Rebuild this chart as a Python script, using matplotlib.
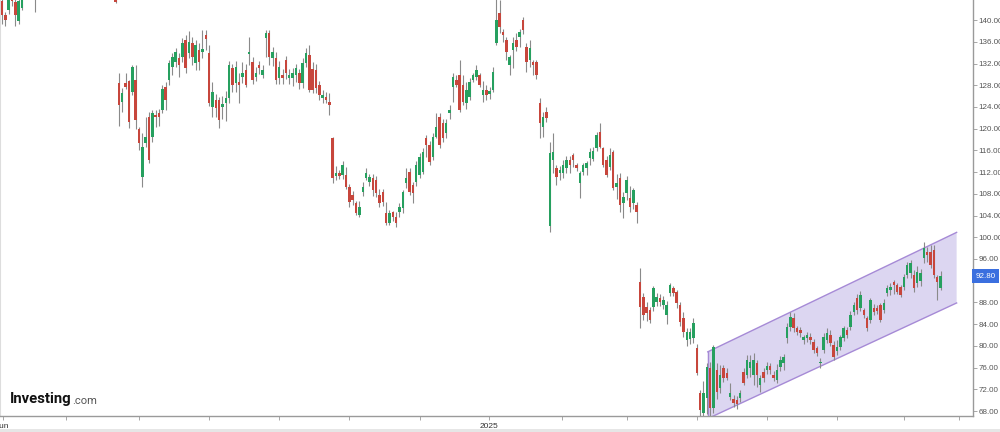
import matplotlib
matplotlib.use("Agg")
import matplotlib.pyplot as plt
import matplotlib.transforms as mtransforms
from matplotlib.patches import Rectangle
import numpy as np

# ---------------- data (daily OHLC, Jun 2024 -> Jul 2025) ----------------
opens = [143.6,140.9,141.8,144.6,143.4,139.8,142.2,145.0,146.5,147.8,
         146.5,145.2,147.0,148.6,150.1,149.2,151.0,152.4,151.5,150.0,
         151.8,153.0,152.2,150.6,149.0,150.4,151.6,150.8,149.3,148.0,
         149.2,148.4,147.2,148.0,147.0,
         128.4,124.9,128.4,128.8,126.7,129.0,119.9,111.1,117.4,122.1,
         118.5,122.4,122.9,123.4,127.7,129.0,131.4,132.3,133.0,133.2,
         136.3,133.9,135.8,132.1,134.5,134.2,137.3,133.9,124.0,125.3,
         125.3,124.0,124.7,125.6,131.2,128.4,128.6,129.5,130.8,133.7,
         132.3,129.5,131.7,129.9,136.7,137.6,133.0,133.0,129.3,129.9,
         132.7,129.3,129.4,129.9,130.2,128.4,132.1,133.6,131.0,130.8,
         128.0,125.6,125.9,124.9,118.3,111.2,111.8,111.5,111.5,109.3,
         107.8,106.3,104.1,108.3,110.9,110.2,110.9,110.5,107.8,108.3,
         104.5,102.6,104.6,103.7,104.6,105.4,110.0,112.0,109.6,110.2,
         111.5,112.0,118.3,117.0,114.8,118.5,122.1,121.0,119.2,122.9,
         127.7,129.0,129.9,128.0,124.7,125.8,129.0,129.5,129.9,126.2,
         127.1,126.3,127.1,135.8,141.3,137.8,136.3,131.7,134.5,136.3,
         136.9,140.0,135.0,132.6,132.3,132.3,124.7,120.3,123.1,102.0,
         114.2,112.7,111.8,111.8,112.7,114.2,115.1,113.3,110.0,112.0,
         112.7,114.6,114.5,116.4,119.4,116.4,114.2,112.9,115.7,109.3,
         110.9,106.3,108.1,107.2,106.3,105.9,
         91.8,89.0,87.2,86.6,87.2,88.1,88.8,87.5,85.7,89.7,
         90.6,89.9,87.5,85.1,81.1,81.3,81.4,79.6,71.3,67.6,
         70.4,75.9,68.6,75.6,72.2,75.9,75.0,70.6,70.2,70.1,
         70.4,75.2,74.6,75.9,74.6,76.8,72.8,75.2,75.6,76.2,
         74.6,73.7,76.1,76.8,81.4,83.5,85.1,83.3,83.0,81.1,
         81.4,81.6,80.7,79.6,76.8,79.2,81.1,82.0,80.2,79.0,
         79.8,81.4,82.9,83.5,86.2,88.8,87.0,86.6,85.1,84.8,
         87.0,87.0,87.5,86.6,89.7,90.3,91.8,91.2,90.8,90.8,
         93.1,93.4,93.1,91.6,91.9,96.2,97.3,97.3,97.6,92.7,90.7]
highs = [144.5,141.5,145.0,145.2,144.3,144.2,145.8,147.2,148.5,148.9,
         147.5,147.8,149.2,150.8,151.0,151.6,153.1,153.4,152.0,152.5,
         153.8,154.0,152.8,151.2,151.0,152.2,152.3,151.4,149.9,149.8,
         150.0,149.0,148.6,148.7,147.6,
         130.2,127.5,130.2,129.0,131.7,131.7,120.3,119.2,122.1,123.1,
         123.4,123.4,123.6,128.0,128.6,132.7,133.9,134.8,134.0,136.7,
         137.2,137.9,136.8,136.3,135.7,138.2,138.2,135.5,128.6,126.3,
         125.8,126.0,127.0,132.5,132.0,132.4,130.2,132.3,132.0,136.8,
         133.2,131.3,132.4,131.8,138.2,138.2,135.0,134.2,132.4,130.9,
         133.4,131.0,131.2,132.0,131.0,133.0,134.8,135.4,132.2,132.0,
         128.8,127.1,126.8,126.6,118.5,113.2,112.3,114.0,112.9,109.8,
         108.5,106.7,106.7,110.2,112.7,111.6,111.6,111.2,108.9,108.9,
         106.5,105.0,104.8,104.6,106.3,108.7,112.7,112.7,110.2,114.0,
         115.5,116.5,118.8,117.8,119.2,122.9,122.9,121.8,121.8,124.3,
         130.2,129.9,132.7,129.9,128.6,129.3,130.2,131.8,130.2,128.7,
         128.0,127.7,131.3,143.8,143.7,138.4,136.9,133.6,136.9,137.6,
         138.4,140.5,135.8,136.3,132.7,132.7,125.6,123.0,124.0,117.5,
         119.2,113.3,113.2,114.2,115.0,115.0,115.5,113.6,112.2,113.6,
         114.1,116.4,116.7,119.4,121.0,116.7,115.0,116.4,116.1,111.6,
         111.8,108.3,111.2,109.4,109.1,106.5,
         94.3,89.7,88.0,87.2,91.0,89.7,89.6,89.1,88.3,91.5,
         91.1,90.2,88.1,86.2,83.2,83.2,85.2,80.4,71.9,73.5,
         76.8,77.0,80.2,76.8,76.5,76.5,76.0,73.2,70.9,70.7,
         71.9,76.0,78.3,78.3,78.7,77.4,74.6,76.0,77.0,76.8,
         75.3,76.6,78.1,78.5,84.2,86.2,86.0,83.7,83.4,82.0,
         82.6,82.3,81.3,80.0,77.8,82.3,83.3,82.9,80.9,81.0,
         82.0,83.7,83.5,86.4,88.1,89.5,90.1,87.0,85.5,88.8,
         87.7,87.6,87.9,88.6,91.3,91.5,92.1,91.6,91.3,93.3,
         95.5,95.8,94.0,94.7,94.2,99.1,98.2,98.5,98.5,93.1,93.8]
lows = [139.3,138.9,141.2,142.6,138.9,139.2,141.9,144.6,145.8,146.3,
        141.5,144.6,146.4,148.0,148.5,148.7,150.3,150.8,149.2,149.6,
        151.0,151.4,149.8,148.2,148.4,149.9,150.1,148.7,147.2,147.5,
        147.6,146.5,146.4,146.2,143.1,
        120.5,123.1,127.3,120.1,126.2,119.9,116.1,109.3,116.6,113.7,
        117.5,120.3,120.5,122.9,123.4,128.0,129.8,131.4,129.6,132.3,
        130.2,133.0,131.8,130.8,130.8,133.0,134.5,124.2,122.1,122.2,
        120.1,121.8,121.5,124.7,126.7,126.8,124.7,128.5,127.7,131.7,
        128.2,128.8,130.0,129.3,133.2,131.7,131.6,128.2,128.2,128.3,
        129.2,128.2,127.8,128.6,127.3,127.5,131.3,126.7,126.5,126.5,
        125.2,124.7,124.8,122.5,110.0,110.5,110.7,110.7,108.9,105.6,
        106.0,104.1,103.7,107.6,110.5,109.5,107.6,107.4,105.6,105.8,
        102.3,102.2,103.0,101.9,103.7,104.5,109.1,107.7,106.3,109.5,
        110.9,111.7,114.8,113.3,114.2,118.3,116.4,117.6,118.3,121.8,
        124.9,127.7,123.0,124.3,123.6,125.3,128.6,129.0,127.7,124.9,
        125.3,125.5,126.8,135.4,137.6,136.0,132.6,129.9,131.2,134.3,
        135.0,137.4,130.4,131.4,129.9,129.2,118.3,118.5,121.3,101.0,
        111.8,109.7,110.5,110.9,111.8,111.8,112.9,112.2,107.2,111.5,
        111.5,113.3,114.0,115.9,116.4,112.9,111.1,112.4,108.7,107.1,
        104.7,103.5,106.9,104.7,105.2,102.6,
        83.3,84.8,84.6,84.2,86.4,87.4,87.4,86.8,84.1,89.1,
        89.2,87.0,83.6,81.6,79.9,80.4,80.6,74.7,66.5,66.5,
        67.5,67.0,67.6,70.2,71.4,73.4,73.8,70.0,68.7,68.4,
        69.7,72.8,74.0,74.3,72.8,72.5,71.5,73.4,74.8,74.9,
        73.5,73.2,75.3,75.6,80.5,82.7,82.5,82.0,81.6,80.4,
        80.8,80.3,78.6,78.2,75.9,78.6,80.6,79.9,77.4,78.3,
        79.2,80.9,81.4,82.9,85.7,85.9,86.4,85.2,82.8,84.2,
        85.7,85.9,84.4,86.1,89.1,89.3,89.6,89.5,89.0,90.2,
        92.5,92.5,90.0,90.9,91.0,95.3,95.5,94.3,92.5,88.4,90.2]
closes = [141.0,140.0,144.5,143.6,141.0,143.6,145.0,146.5,147.8,147.0,
          145.2,147.0,148.6,150.1,149.2,151.0,152.4,151.5,150.0,151.8,
          153.0,152.2,150.6,149.0,150.4,151.6,150.8,149.3,148.0,149.2,
          148.4,147.2,148.0,147.0,143.4,
          124.4,126.6,127.7,121.2,131.4,121.6,117.4,116.6,118.5,114.2,
          122.9,122.2,122.1,127.3,125.3,132.1,133.2,134.1,131.7,135.8,
          131.2,136.0,133.2,135.4,132.3,134.6,136.6,124.7,126.7,123.8,
          121.6,124.6,125.6,131.7,128.0,131.4,128.0,130.2,128.0,134.1,
          129.0,130.2,131.2,130.8,137.6,133.2,134.1,129.0,131.4,129.3,
          130.2,129.9,130.2,131.2,128.4,132.1,133.9,127.1,127.1,127.5,
          126.2,126.2,125.3,124.4,110.9,111.8,111.2,113.3,109.3,106.5,
          106.9,104.5,105.6,109.3,111.8,111.1,108.7,108.1,106.3,106.5,
          102.6,104.5,103.7,102.6,105.6,108.3,110.9,108.3,108.1,113.3,
          114.8,115.7,117.0,113.9,118.5,120.3,117.0,118.3,121.0,123.4,
          129.5,128.1,123.4,124.9,127.1,128.6,129.9,130.8,128.1,127.1,
          126.2,126.9,130.4,140.0,138.7,137.2,134.1,133.2,135.8,135.0,
          137.8,138.2,132.3,134.9,131.7,129.9,121.0,122.1,122.0,115.5,
          115.7,111.1,112.4,113.3,114.2,113.3,114.2,112.7,111.8,113.3,
          113.7,115.7,115.9,118.8,116.6,113.3,111.5,115.1,109.1,110.0,
          105.9,107.4,110.5,105.6,108.7,104.6,
          87.2,85.7,86.1,84.8,90.6,89.0,88.1,88.4,87.5,91.2,
          89.7,87.9,84.4,82.5,82.5,82.5,84.2,75.0,68.2,71.3,
          76.1,68.6,79.8,71.5,74.6,74.1,74.1,71.3,69.5,69.3,
          71.3,73.2,77.4,77.0,77.4,74.6,74.1,74.1,76.3,75.6,
          74.1,75.6,77.4,77.9,83.5,85.3,83.3,82.5,82.3,81.6,
          82.0,81.0,79.2,78.7,77.1,81.6,82.4,80.5,77.9,79.8,
          81.6,83.3,82.0,85.7,87.5,86.6,89.4,85.7,83.3,88.4,
          86.3,86.4,84.8,87.9,90.6,90.8,91.2,89.9,89.4,92.7,
          94.9,95.3,90.7,93.6,93.5,98.0,96.7,94.9,93.1,91.8,92.8]

# month ticks (trading-day index) and their labels
month_ticks = [0.2, 19.2, 41.0, 62.0, 83.0, 104.0, 125.0, 145.8, 167.7, 187.0, 208.0, 229.0, 250.0, 270.0, 286.5]
month_labels = ["Jun", "", "", "", "", "", "", "2025", "", "", "", "", "", "", ""]

# price axis ticks (92.00 is hidden behind the last-price tag)
price_ticks = [68, 72, 76, 80, 84, 88, 96, 100, 104, 108, 112, 116, 120, 124, 128, 132, 136, 140]
last_price = 92.80

# rising channel drawn on the chart (index, price)
channel_x = [211.3, 285.8]
channel_upper = [78.9, 100.9]
channel_lower = [66.6, 87.9]

# ---------------- figure ----------------
GREEN = "#26a05f"
RED = "#c7463c"
WICK = "#8a8a8a"
TICKFONT = "Liberation Sans"

fig = plt.figure(figsize=(10, 4.32), dpi=100)
ax = fig.add_axes([0.0, 16 / 432, 0.973, 1 - 16 / 432])

n = len(closes)
x = np.arange(n)
o = np.array(opens); h = np.array(highs); l = np.array(lows); c = np.array(closes)

# channel
poly_x = [channel_x[0], channel_x[1], channel_x[1], channel_x[0]]
poly_y = [channel_upper[0], channel_upper[1], channel_lower[1], channel_lower[0]]
ax.fill(poly_x, poly_y, color="#dcd6f1", zorder=1, lw=0)
ax.plot(channel_x, channel_upper, color="#a68ad6", lw=1.0, zorder=1.5)
ax.plot(channel_x, channel_lower, color="#a68ad6", lw=1.0, zorder=1.5)
ax.plot([channel_x[0], channel_x[0]], [channel_lower[0], channel_upper[0]], color="#a68ad6", lw=1.0, zorder=1.5)

up = c >= o
colors = np.where(up, GREEN, RED)
ax.vlines(x, l, h, color=WICK, lw=0.8, zorder=2)
bottoms = np.minimum(o, c)
heights = np.maximum(np.abs(c - o), 0.3)
ax.bar(x, heights, bottom=bottoms, width=0.74, color=colors, lw=0, zorder=3)

ax.set_xlim(-0.6, 290.7)
ax.set_ylim(67.08, 143.7)

ax.yaxis.tick_right()
ax.set_yticks(price_ticks)
ax.set_yticklabels([f"{v:.2f}" for v in price_ticks], family=TICKFONT)
ax.tick_params(axis="y", direction="out", length=3, width=0.6, color="#999999",
               labelsize=5.8, labelcolor="#555555", pad=0.8)
ax.set_xticks(month_ticks)
ax.set_xticklabels(month_labels, family=TICKFONT)
ax.tick_params(axis="x", direction="out", length=3, width=0.6, color="#999999",
               labelsize=6.0, labelcolor="#333333", pad=2)

ax.spines["top"].set_visible(False)
ax.spines["left"].set_color("#dddddd")
ax.spines["left"].set_linewidth(0.8)
ax.spines["right"].set_color("#9a9a9a")
ax.spines["right"].set_linewidth(1.0)
ax.spines["bottom"].set_color("#9a9a9a")
ax.spines["bottom"].set_linewidth(1.0)

trans = mtransforms.blended_transform_factory(ax.transAxes, ax.transData)
ax.text(1.0042, 144.0, "144.00", transform=trans, fontsize=5.8, color="#555555",
        va="center", ha="left", clip_on=False, family=TICKFONT)
ax.text(1.0025, last_price, f"{last_price:.2f}", transform=trans, fontsize=5.8, color="white",
        va="center", ha="left", clip_on=False, family=TICKFONT,
        bbox=dict(boxstyle="square,pad=0.45", fc="#3b6fdf", ec="none"))

# logo
t1 = fig.text(0.010, 1 - 399 / 432, "Investing", fontsize=10.7, fontweight="bold", color="#111111",
              va="center", ha="left", family="Roboto")
fig.canvas.draw()
bb = t1.get_window_extent(renderer=fig.canvas.get_renderer())
x_end = bb.x1 / fig.bbox.width
fig.text(x_end + 0.0005, 1 - 400.5 / 432, ".com", fontsize=8, color="#555555",
         va="center", ha="left", family="Roboto")

fig.patches.append(Rectangle((0, 0), 1, 3.5 / 432, transform=fig.transFigure,
                             fc="#e6e6e6", ec="none", zorder=0))

fig.savefig("out.png", dpi=100)
